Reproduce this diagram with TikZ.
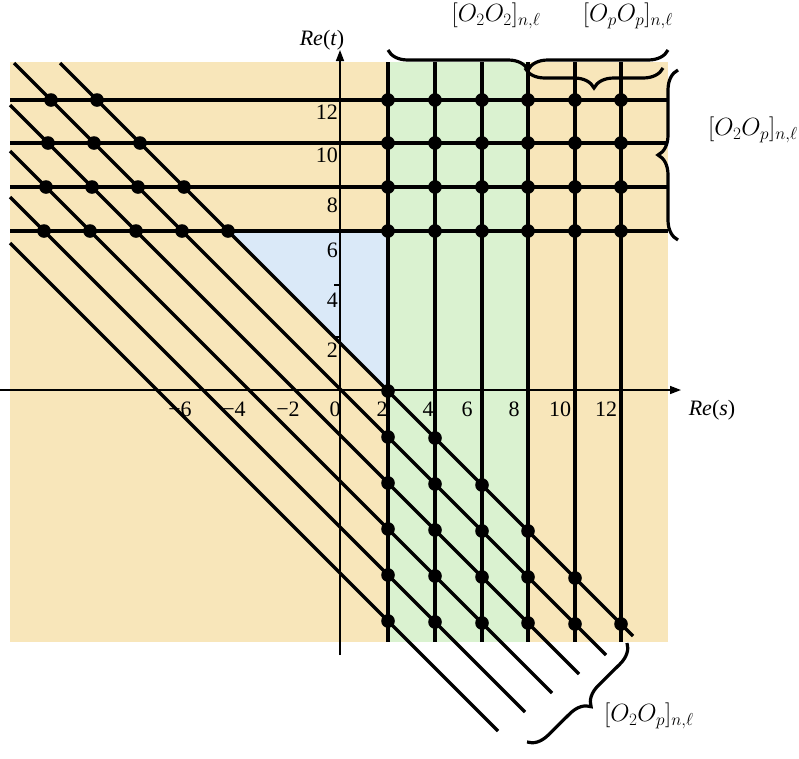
\documentclass[tikz,border=0pt]{standalone}
\usepackage{fontspec}
\setmainfont{Liberation Serif}
\usetikzlibrary{decorations.pathreplacing,arrows.meta}
\definecolor{peach}{HTML}{F8E6BA}
\definecolor{lgreen}{HTML}{DAF2D0}
\definecolor{lblue}{HTML}{DAE9F8}
\begin{document}
\begin{tikzpicture}[x=1pt,y=-1pt,
  ln/.style={line width=3.3pt},
  ax/.style={line width=1.4pt,-{Triangle[length=11pt,width=8pt]}},
  br/.style={decorate,decoration={brace,amplitude=20pt},line width=3.2pt},
  lab/.style={font=\fontsize{22}{24}\selectfont,inner sep=0pt},
  mlab/.style={font=\fontsize{25}{27}\selectfont,inner sep=0pt}]
\useasboundingbox (0,0) rectangle (799,758);
\fill[peach] (10,62) rectangle (668,642);
\fill[lgreen] (388,62) rectangle (528,642);
\fill[lblue] (388,390) -- (388,231) -- (230,231) -- cycle;
% axes
\draw[ax] (0,390) -- (681,390);
\draw[ax] (340,655) -- (340,50);
\draw[line width=1.2pt] (334,285) -- (340,285) (334,337) -- (340,337);
% vertical lines
\foreach \x in {388,435,482,528,575,621} \draw[ln] (\x,62) -- (\x,642);
% horizontal lines
\foreach \y in {100,143,187,231} \draw[ln] (10,\y) -- (668,\y);
% diagonals
\foreach \k in {0,...,5}{
  \pgfmathsetmacro\b{3+46*\k}
  \pgfmathsetmacro\xs{max(10,63-\b)}
  \pgfmathsetmacro\xe{633-27*\k}
  \draw[ln] (\xs,\xs+\b) -- (\xe,\xe+\b);
}
% dots
\foreach \x in {388,435,482,528,575,621}{
  \foreach \y in {100,143,187,231} \fill (\x,\y) circle (6.8);
  \foreach \k in {0,...,5}{
    \pgfmathsetmacro\yy{\x+3+46*\k}
    \pgfmathtruncatemacro\ok{\yy<=630}
    \ifnum\ok=1 \fill (\x,\yy) circle (6.8);\fi
  }
}
\foreach \y in {100,143,187,231}{
  \foreach \k in {0,...,5}{
    \pgfmathsetmacro\xx{\y-3-46*\k}
    \pgfmathtruncatemacro\ok{\xx>=30}
    \ifnum\ok=1 \fill (\xx,\y) circle (6.8);\fi
  }
}
% tick labels
\foreach \v/\y in {12/112,10/155,8/205,6/250,4/300,2/350}
  \node[lab,anchor=east] at (338,\y) {\v};
\foreach \v/\x in {2/382,4/428,6/467,8/514,10/560,12/606,0/335,−2/288,−4/234,−6/180}
  \node[lab] at (\x,409) {\v};
\node[lab] (ret) at (322,40) {\textit{Re}(\textit{t})};
\node[lab] (res) at (712,410) {\textit{Re}(\textit{s})};
% braces
\draw[br,decoration={mirror}] (388,50) -- (668,50);
\draw[br,decoration={mirror}] (525,68) -- (663,68);
\draw[br,decoration={mirror}] (678,70) -- (678,240);
\draw[br] (627,643) -- (527,742);
\node[mlab] (l1) at (496,16) {$[O_2O_2]_{n,\ell}$};
\node[mlab] (l2) at (628,16) {$[O_pO_p]_{n,\ell}$};
\node[mlab,anchor=west] (l3) at (708,130) {$[O_2O_p]_{n,\ell}$};
\node[mlab,anchor=west] (l4) at (604,716) {$[O_2O_p]_{n,\ell}$};
\end{tikzpicture}
\end{document}
